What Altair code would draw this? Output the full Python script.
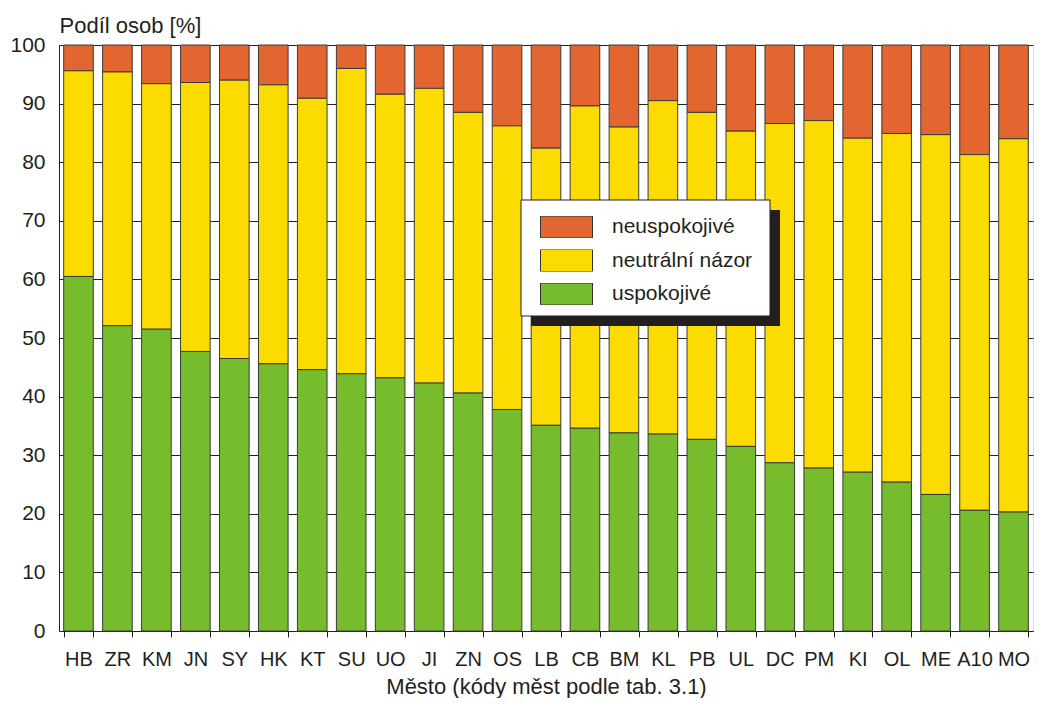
import altair as alt
import pandas as pd

mesta = ["HB", "ZR", "KM", "JN", "SY", "HK", "KT", "SU", "UO", "JI", "ZN", "OS", "LB",
         "CB", "BM", "KL", "PB", "UL", "DC", "PM", "KI", "OL", "ME", "A10", "MO"]
uspokojive = [60.5, 52.1, 51.5, 47.7, 46.5, 45.6, 44.6, 43.9, 43.2, 42.3, 40.6, 37.8, 35.1,
              34.6, 33.8, 33.6, 32.7, 31.5, 28.7, 27.8, 27.1, 25.4, 23.3, 20.6, 20.3]
# cumulative top of the yellow part (uspokojivé + neutrální názor)
kumulativ = [95.6, 95.4, 93.4, 93.6, 94.0, 93.2, 90.9, 96.0, 91.6, 92.6, 88.5, 86.2, 82.4,
             89.6, 86.0, 90.5, 88.5, 85.3, 86.6, 87.1, 84.1, 84.9, 84.7, 81.3, 84.0]

kategorie = ["neuspokojivé", "neutrální názor", "uspokojivé"]
barvy = ["#e36530", "#fbdb00", "#76bc2c"]
poradi = {"uspokojivé": 0, "neutrální názor": 1, "neuspokojivé": 2}

rows = []
for m, u, k in zip(mesta, uspokojive, kumulativ):
    vals = {"uspokojivé": u, "neutrální názor": k - u, "neuspokojivé": 100 - k}
    for c in kategorie:
        rows.append({"Město": m, "Hodnocení": c, "Podíl": vals[c], "poradi": poradi[c]})
df = pd.DataFrame(rows)

FONT = "Liberation Sans"
TXT = "#231f20"

bars = alt.Chart(df).mark_bar(stroke="#3a3a3a", strokeWidth=1).encode(
    x=alt.X("Město:N", sort=mesta,
            scale=alt.Scale(paddingInner=0.24, paddingOuter=0.12),
            axis=alt.Axis(title="Město (kódy měst podle tab. 3.1)", labelAngle=0,
                          tickBand="extent", tickSize=6, tickColor="#222",
                          domainColor="#222", labelFontSize=20, labelFont=FONT,
                          labelColor=TXT, labelBaseline="alphabetic", labelPadding=28,
                          titleFontSize=22, titleFont=FONT, titleFontWeight="normal",
                          titleColor=TXT, titleBaseline="alphabetic", titleY=62,
                          grid=False)),
    y=alt.Y("Podíl:Q", stack="zero",
            scale=alt.Scale(domain=[0, 100], nice=False),
            axis=alt.Axis(title="Podíl osob [%]", values=list(range(0, 101, 10)),
                          ticks=False, tickSize=0, labelPadding=14, labelFontSize=21,
                          labelFont=FONT, labelColor=TXT, domainColor="#222",
                          grid=True, gridColor="#222", gridWidth=1, gridOpacity=1,
                          titleAngle=0, titleAlign="left", titleBaseline="alphabetic",
                          titleX=0, titleY=-13, titleFontSize=22, titleFont=FONT,
                          titleFontWeight="normal", titleColor=TXT)),
    color=alt.Color("Hodnocení:N",
                    scale=alt.Scale(domain=kategorie, range=barvy),
                    legend=alt.Legend(title=None, orient="none", legendX=481, legendY=171,
                                      padding=0, symbolType="M-1,-0.423H1V0.423H-1Z",
                                      symbolSize=2704, symbolStrokeColor="#333",
                                      symbolStrokeWidth=1, symbolOpacity=1,
                                      clipHeight=22, rowPadding=11.5, labelOffset=19,
                                      labelFontSize=21, labelFont=FONT, labelColor=TXT,
                                      labelLimit=300)),
    order=alt.Order("poradi:Q", sort="ascending"),
)

box_df = pd.DataFrame({"k": [0]})
shadow = alt.Chart(box_df).mark_rect(fill="#231f20").encode(
    x=alt.value(472), x2=alt.value(721), y=alt.value(165), y2=alt.value(281))
box = alt.Chart(box_df).mark_rect(fill="white", stroke="#231f20", strokeWidth=1).encode(
    x=alt.value(462), x2=alt.value(711), y=alt.value(155), y2=alt.value(271))

chart = alt.layer(bars, shadow, box).properties(
    width=974, height=586,
    padding={"left": 51, "top": 37, "right": 1, "bottom": 67},
    autosize=alt.AutoSizeParams(type="none"),
).configure_view(stroke=None).configure(background="white")

chart.save("out.html", embed_options={"renderer": "svg", "actions": False})
